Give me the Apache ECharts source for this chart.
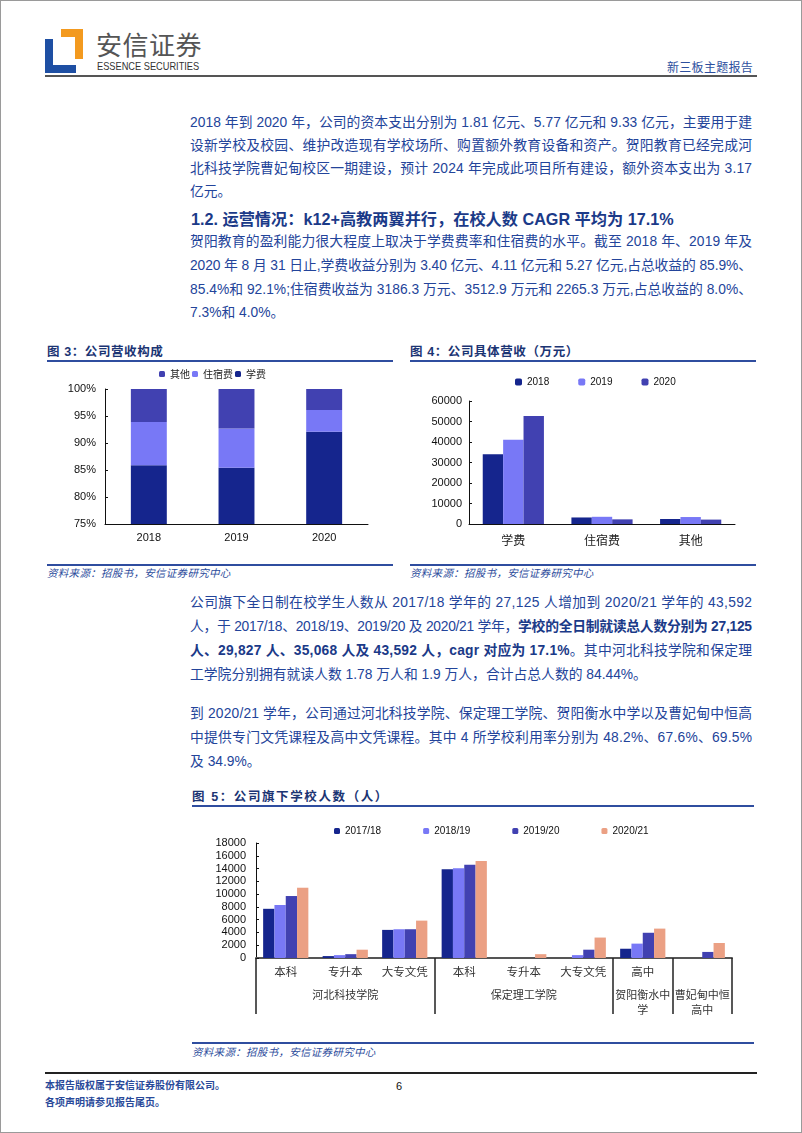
<!DOCTYPE html>
<html><head><meta charset="utf-8">
<script src="https://cdn.jsdelivr.net/npm/echarts/dist/echarts.min.js"></script>
<style>
html,body{margin:0;padding:0;background:#fff;}
body{width:802px;height:1133px;position:relative;overflow:hidden;font-family:"Liberation Sans","Noto Sans CJK SC",sans-serif;}
.border{position:absolute;left:0;top:0;width:800px;height:1131px;border:1px solid #9a9a9a;}
.abs{position:absolute;}
.ln{position:absolute;left:190px;height:24px;line-height:24px;font-size:13.8px;color:#23449a;white-space:nowrap;}
.hd{position:absolute;left:191px;font-size:16.2px;font-weight:bold;color:#1b3a88;line-height:24px;height:24px;white-space:nowrap;}
.ft{position:absolute;font-size:12.5px;font-weight:bold;color:#1b3473;letter-spacing:0.6px;line-height:16px;white-space:nowrap;}
.rule{position:absolute;height:0;border-top:2px solid #2f4d9f;}
.src{position:absolute;font-size:10.5px;font-style:italic;color:#2c4c9c;line-height:14px;letter-spacing:0.3px;white-space:nowrap;}
b{font-weight:bold;color:#1b3a88;}
</style></head>
<body>
<div class="border"></div>
<!-- header -->
<div class="abs" style="left:45px;top:39px;width:31px;height:34px;background:#1e4fa3;"></div>
<div class="abs" style="left:53px;top:39px;width:23px;height:26px;background:#fff;"></div>
<div class="abs" style="left:61px;top:29px;width:22px;height:30px;background:#f39a1f;"></div>
<div class="abs" style="left:61px;top:37px;width:14px;height:22px;background:#fff;"></div>
<div class="abs" style="left:96px;top:27px;font-size:26px;line-height:34px;color:#555;letter-spacing:0.5px;font-family:'Noto Sans CJK SC';">安信证券</div>
<div class="abs" style="left:97px;top:60px;font-size:10.5px;line-height:12px;color:#333;transform:scaleX(0.88);transform-origin:0 0;white-space:nowrap;">ESSENCE SECURITIES</div>
<div class="abs" style="left:667px;top:59px;font-size:12px;line-height:16px;color:#2d4f9e;letter-spacing:0.3px;font-family:'Noto Sans CJK SC';">新三板主题报告</div>
<div class="abs" style="left:45px;top:75px;width:712px;height:2px;background:#555;"></div>

<!-- paragraph 1 -->
<div class="ln fit" style="top:111px;">2018 年到 2020 年，公司的资本支出分别为 1.81 亿元、5.77 亿元和 9.33 亿元，主要用于建</div>
<div class="ln fit" style="top:134px;">设新学校及校园、维护改造现有学校场所、购置额外教育设备和资产。贺阳教育已经完成河</div>
<div class="ln fit" style="top:157px;">北科技学院曹妃甸校区一期建设，预计 2024 年完成此项目所有建设，额外资本支出为 3.17</div>
<div class="ln" style="top:180px;">亿元。</div>
<div class="hd" style="top:207px;">1.2. 运营情况：k12+高教两翼并行，在校人数 CAGR 平均为 17.1%</div>
<div class="ln fit" style="top:230px;">贺阳教育的盈利能力很大程度上取决于学费费率和住宿费的水平。截至 2018 年、2019 年及</div>
<div class="ln fit" style="top:254px;">2020 年 8 月 31 日止,学费收益分别为 3.40 亿元、4.11 亿元和 5.27 亿元,占总收益的 85.9%、</div>
<div class="ln fit" style="top:278px;">85.4%和 92.1%;住宿费收益为 3186.3 万元、3512.9 万元和 2265.3 万元,占总收益的 8.0%、</div>
<div class="ln" style="top:301px;">7.3%和 4.0%。</div>

<!-- figure 3 & 4 frames -->
<div class="ft" style="left:47px;top:344px;">图 3：公司营收构成</div>
<div class="rule" style="left:47px;top:360px;width:346px;"></div>
<div class="ft" style="left:410px;top:344px;">图 4：公司具体营收（万元）</div>
<div class="rule" style="left:410px;top:360px;width:346px;"></div>
<div id="c3" class="abs" style="left:40px;top:362px;width:360px;height:200px;"></div>
<div id="c4" class="abs" style="left:400px;top:362px;width:370px;height:200px;"></div>
<div class="rule" style="left:47px;top:564px;width:346px;"></div>
<div class="src" style="left:47px;top:566px;">资料来源：招股书，安信证券研究中心</div>
<div class="rule" style="left:410px;top:564px;width:346px;"></div>
<div class="src" style="left:410px;top:566px;">资料来源：招股书，安信证券研究中心</div>

<!-- paragraph 3 -->
<div class="ln fit" style="top:591px;">公司旗下全日制在校学生人数从 2017/18 学年的 27,125 人增加到 2020/21 学年的 43,592</div>
<div class="ln fit" style="top:615px;">人，于 2017/18、2018/19、2019/20 及 2020/21 学年，<b>学校的全日制就读总人数分别为 27,125</b></div>
<div class="ln fit" style="top:639px;"><b>人、29,827 人、35,068 人及 43,592 人，cagr 对应为 17.1%</b>。其中河北科技学院和保定理</div>
<div class="ln" style="top:663px;">工学院分别拥有就读人数 1.78 万人和 1.9 万人，合计占总人数的 84.44%。</div>
<div class="ln fit" style="top:702px;">到 2020/21 学年，公司通过河北科技学院、保定理工学院、贺阳衡水中学以及曹妃甸中恒高</div>
<div class="ln fit" style="top:726px;">中提供专门文凭课程及高中文凭课程。其中 4 所学校利用率分别为 48.2%、67.6%、69.5%</div>
<div class="ln" style="top:750px;">及 34.9%。</div>

<!-- figure 5 -->
<div class="ft" style="left:192px;top:789px;letter-spacing:1.6px;">图 5：公司旗下学校人数（人）</div>
<div class="rule" style="left:192px;top:805px;width:562px;"></div>
<div id="c5" class="abs" style="left:180px;top:812px;width:600px;height:225px;"></div>
<div class="rule" style="left:192px;top:1042px;width:562px;"></div>
<div class="src" style="left:192px;top:1045px;">资料来源：招股书，安信证券研究中心</div>

<!-- footer -->
<div class="abs" style="left:45px;top:1072px;width:712px;height:2px;background:#222;"></div>
<div class="abs" style="left:45px;top:1079px;font-size:10px;line-height:14px;font-weight:bold;color:#2a4a9a;">本报告版权属于安信证券股份有限公司。</div>
<div class="abs" style="left:45px;top:1096px;font-size:10px;line-height:14px;font-weight:bold;color:#2a4a9a;">各项声明请参见报告尾页。</div>
<div class="abs" style="left:396px;top:1079px;font-size:11px;line-height:14px;color:#111;">6</div>

<script>
// fit full lines to the text column width
(function () {
  const W = 562;
  document.querySelectorAll('.ln.fit').forEach(function (el) {
    const w = el.getBoundingClientRect().width;
    const n = el.textContent.length;
    el.style.letterSpacing = ((W - w) / (n - 1)).toFixed(3) + 'px';
  });
})();

// ---------- data ----------
const revYears = ['2018', '2019', '2020'];
const shareTuition = [85.9, 85.4, 92.1];
const shareDorm = [8.0, 7.3, 4.0];
const shareOther = [6.1, 7.3, 3.9];
const shareTicks = [75, 80, 85, 90, 95, 100];

const revItems = ['学费', '住宿费', '其他'];
const rev2018 = [34000, 3186, 2450];
const rev2019 = [41100, 3513, 3400];
const rev2020 = [52700, 2265, 2150];

const schoolSubCats = ['本科', '专升本', '大专文凭', '本科', '专升本', '大专文凭', '高中', ''];
const schoolGroups = ['河北科技学院', '保定理工学院', '贺阳衡水中\n学', '曹妃甸中恒\n高中'];
const groupSpans = [3, 3, 1, 1];
const stu1718 = [7700, 300, 4400, 13900, 0, 0, 1450, 0];
const stu1819 = [8300, 450, 4500, 14050, 0, 450, 2250, 0];
const stu1920 = [9700, 600, 4500, 14600, 0, 1300, 3950, 950];
const stu2021 = [11000, 1300, 5850, 15200, 600, 3200, 4600, 2350];
const stuYears = ['2017/18', '2018/19', '2019/20', '2020/21'];

// ---------- styles ----------
const NAVY = '#15258d', LIGHT = '#7878f6', INDIGO = '#4141b1', SALMON = '#eba084';
const NUMF = 'Liberation Sans', CJK = 'Noto Sans CJK SC';
const plain = function (v) { return String(v); };

// ---------- chart 3 ----------
const c3 = echarts.init(document.getElementById('c3'), null, {renderer: 'canvas'});
c3.setOption({
  animation: false,
  legend: {data: ['其他', '住宿费', '学费'], left: 114, top: 2, itemWidth: 6, itemHeight: 6, itemGap: 2,
    textStyle: {fontSize: 10, fontFamily: CJK, color: '#222'}},
  grid: {left: 65, top: 27, width: 263, height: 135},
  xAxis: {type: 'category', data: revYears,
    axisLine: {lineStyle: {color: '#111', width: 1}},
    axisTick: {length: 3, lineStyle: {color: '#111'}},
    axisLabel: {fontSize: 11, fontFamily: NUMF, color: '#111', margin: 8}},
  yAxis: {type: 'value', min: shareTicks[0], max: shareTicks[shareTicks.length - 1], interval: 5,
    axisLine: {show: true, lineStyle: {color: '#111'}},
    axisTick: {show: true, inside: true, length: 3, lineStyle: {color: '#111'}},
    splitLine: {show: false},
    axisLabel: {formatter: '{value}%', fontSize: 11, fontFamily: NUMF, color: '#111', margin: 9}},
  series: [
    {name: '学费', type: 'bar', stack: 's', data: shareTuition, itemStyle: {color: NAVY}, barWidth: '41%'},
    {name: '住宿费', type: 'bar', stack: 's', data: shareDorm, itemStyle: {color: LIGHT}},
    {name: '其他', type: 'bar', stack: 's', data: shareOther, itemStyle: {color: INDIGO}}
  ]
});

// ---------- chart 4 ----------
const c4 = echarts.init(document.getElementById('c4'), null, {renderer: 'canvas'});
c4.setOption({
  animation: false,
  legend: {data: revYears, left: 110, top: 10, itemWidth: 7, itemHeight: 7, itemGap: 29,
    textStyle: {fontSize: 10, fontFamily: NUMF, color: '#111'}},
  grid: {left: 69, top: 39, width: 266, height: 123},
  xAxis: {type: 'category', data: revItems,
    axisLine: {lineStyle: {color: '#111'}},
    axisTick: {length: 3, lineStyle: {color: '#111'}},
    axisLabel: {fontSize: 12, fontFamily: CJK, color: '#222', margin: 10}},
  yAxis: {type: 'value', min: 0, max: 60000, interval: 10000,
    axisLine: {show: true, lineStyle: {color: '#111'}},
    axisTick: {show: true, inside: true, length: 3, lineStyle: {color: '#111'}},
    splitLine: {show: false},
    axisLabel: {formatter: plain, fontSize: 11, fontFamily: NUMF, color: '#111', margin: 7}},
  series: [
    {name: '2018', type: 'bar', data: rev2018, itemStyle: {color: NAVY}, barGap: '0%', barCategoryGap: '31%'},
    {name: '2019', type: 'bar', data: rev2019, itemStyle: {color: LIGHT}},
    {name: '2020', type: 'bar', data: rev2020, itemStyle: {color: INDIGO}}
  ]
});

// ---------- chart 5 ----------
const groupLabels = [];
const groupStarts = [];
(function () {
  let idx = 0;
  schoolGroups.forEach(function (g, gi) {
    const span = groupSpans[gi];
    groupStarts.push(idx);
    for (let k = 0; k < span; k++) {
      groupLabels.push(k === Math.floor((span - 1) / 2) ? g : '');
    }
    idx += span;
  });
})();

const c5 = echarts.init(document.getElementById('c5'), null, {renderer: 'canvas'});
c5.setOption({
  animation: false,
  legend: {data: stuYears, left: 149, top: 9, itemWidth: 6, itemHeight: 6, itemGap: 42,
    textStyle: {fontSize: 10, fontFamily: NUMF, color: '#111'}},
  grid: {left: 76, top: 31, width: 476, height: 115},
  xAxis: [
    {type: 'category', data: schoolSubCats, position: 'bottom',
      axisLine: {lineStyle: {color: '#555', width: 2}},
      axisTick: {length: 21, interval: 0, lineStyle: {color: '#222', width: 1.5}},
      axisLabel: {interval: 0, fontSize: 11.5, fontFamily: CJK, color: '#333', margin: 8}},
    {type: 'category', data: groupLabels, position: 'bottom',
      axisLine: {show: false},
      axisTick: {show: true, length: 56, lineStyle: {color: '#222', width: 1.5},
        interval: function (index) { return groupStarts.indexOf(index) >= 0; }},
      axisLabel: {interval: 0, fontSize: 11, fontFamily: CJK, color: '#333', margin: 29, lineHeight: 15}}
  ],
  yAxis: {type: 'value', min: 0, max: 18000, interval: 2000,
    axisLine: {show: true, lineStyle: {color: '#111'}},
    axisTick: {show: true, inside: true, length: 3, lineStyle: {color: '#111'}},
    splitLine: {show: false},
    axisLabel: {formatter: plain, fontSize: 11, fontFamily: NUMF, color: '#111', margin: 10}},
  series: [
    {name: '2017/18', type: 'bar', xAxisIndex: 0, data: stu1718, itemStyle: {color: NAVY}, barGap: '0%', barCategoryGap: '24%'},
    {name: '2018/19', type: 'bar', xAxisIndex: 0, data: stu1819, itemStyle: {color: LIGHT}},
    {name: '2019/20', type: 'bar', xAxisIndex: 0, data: stu1920, itemStyle: {color: INDIGO}},
    {name: '2020/21', type: 'bar', xAxisIndex: 0, data: stu2021, itemStyle: {color: SALMON}}
  ]
});
</script>
</body></html>
